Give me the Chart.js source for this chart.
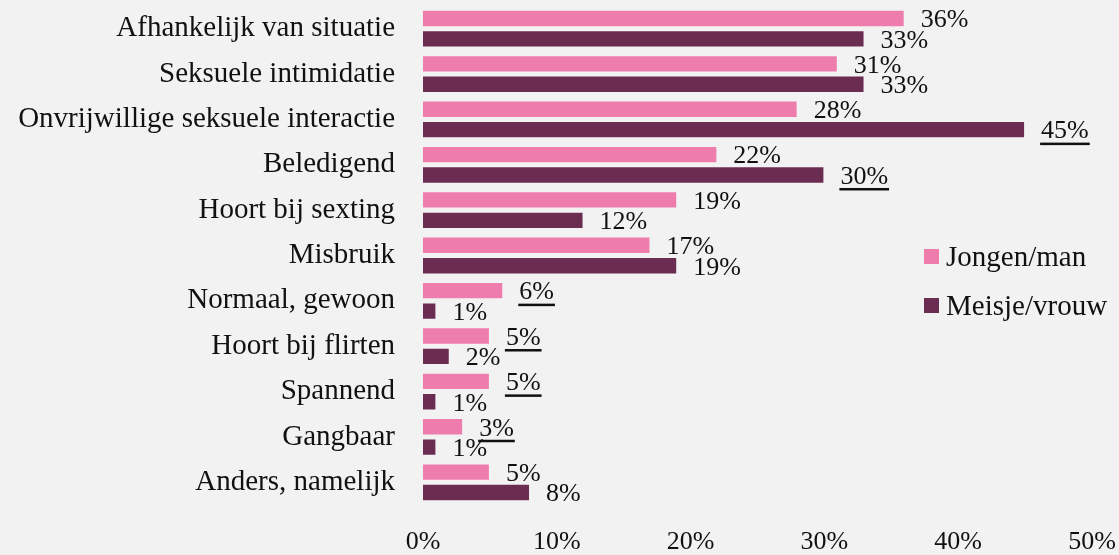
<!DOCTYPE html>
<html>
<head>
<meta charset="utf-8">
<script src="https://cdn.jsdelivr.net/npm/chart.js@4"></script>
<style>
  html, body { margin: 0; padding: 0; background: #f2f2f2; }
  #wrap { width: 1119px; height: 555px; }
</style>
</head>
<body>
<div id="wrap"><canvas id="myChart" width="1119" height="555"></canvas></div>
<script>
const categorieen = ['Afhankelijk van situatie', 'Seksuele intimidatie', 'Onvrijwillige seksuele interactie',
  'Beledigend', 'Hoort bij sexting', 'Misbruik', 'Normaal, gewoon', 'Hoort bij flirten',
  'Spannend', 'Gangbaar', 'Anders, namelijk'];
const jongen = [36, 31, 28, 22, 19, 17, 6, 5, 5, 3, 5];
const meisje = [33, 33, 45, 30, 12, 19, 1, 2, 1, 1, 8];
// welke labels onderstreept zijn (significant verschil)
const jongenOnderstreept = [0, 0, 0, 0, 0, 0, 1, 1, 1, 1, 0];
const meisjeOnderstreept = [0, 0, 1, 1, 0, 0, 0, 0, 0, 0, 0];
const xTicks = [0, 10, 20, 30, 40, 50];

const FONT = "'Liberation Serif', serif";

const labelPlugin = {
  id: 'waardeLabels',
  afterDatasetsDraw(chart) {
    const ctx = chart.ctx;
    const lijnen = [jongenOnderstreept, meisjeOnderstreept];
    ctx.save();
    ctx.font = '26px ' + FONT;
    ctx.fillStyle = '#111';
    ctx.textAlign = 'left';
    ctx.textBaseline = 'middle';
    chart.data.datasets.forEach((ds, i) => {
      const meta = chart.getDatasetMeta(i);
      meta.data.forEach((bar, j) => {
        const txt = ds.data[j] + '%';
        const x = bar.x + 16;
        const y = bar.y + 2;
        ctx.fillText(txt, x, y);
        if (lijnen[i][j]) {
          const w = ctx.measureText(txt).width;
          ctx.fillRect(x - 1, y + 11, w + 2, 2.5);
        }
      });
    });
    ctx.restore();
  }
};

const legendPlugin = {
  id: 'eigenLegenda',
  afterDraw(chart) {
    const ctx = chart.ctx;
    const items = [
      { text: 'Jongen/man', color: '#ee7cad', y: 256 },
      { text: 'Meisje/vrouw', color: '#6a2d51', y: 305 }
    ];
    ctx.save();
    ctx.font = '29px ' + FONT;
    ctx.textBaseline = 'middle';
    ctx.textAlign = 'left';
    items.forEach(it => {
      ctx.fillStyle = it.color;
      ctx.fillRect(924, it.y - 7, 15, 15);
      ctx.fillStyle = '#111';
      ctx.fillText(it.text, 946, it.y + 2);
    });
    ctx.restore();
  }
};

const bgPlugin = {
  id: 'achtergrond',
  beforeDraw(chart) {
    const ctx = chart.ctx;
    ctx.save();
    ctx.fillStyle = '#f2f2f2';
    ctx.fillRect(0, 0, chart.width, chart.height);
    ctx.restore();
  }
};

function geenPadding(scale) {
  scale.paddingTop = 0;
  scale.paddingBottom = 0;
  scale.paddingLeft = 0;
  scale.paddingRight = 0;
}

new Chart(document.getElementById('myChart'), {
  type: 'bar',
  data: {
    labels: categorieen,
    datasets: [{
      label: 'Jongen/man',
      data: jongen,
      backgroundColor: '#ee7cad',
      borderColor: 'rgba(255,255,255,0.2)',
      borderWidth: 1
    }, {
      label: 'Meisje/vrouw',
      data: meisje,
      backgroundColor: '#6a2d51',
      borderColor: 'rgba(255,255,255,0.2)',
      borderWidth: 1
    }]
  },
  options: {
    indexAxis: 'y',
    responsive: false,
    animation: false,
    datasets: { bar: { categoryPercentage: 0.9, barPercentage: 0.85 } },
    layout: { padding: { top: 6, right: 27, left: 0, bottom: 0 } },
    plugins: {
      legend: { display: false },
      tooltip: { enabled: false }
    },
    scales: {
      x: {
        min: 0,
        max: 50,
        grid: { display: false, drawTicks: false },
        border: { display: false },
        afterBuildTicks(scale) { scale.ticks = xTicks.map(v => ({ value: v })); },
        afterFit(scale) { scale.height = 50; geenPadding(scale); },
        ticks: {
          padding: 22,
          maxRotation: 0,
          color: '#111',
          font: { family: FONT, size: 26 },
          callback: v => v + '%'
        }
      },
      y: {
        grid: { display: false, drawTicks: false },
        border: { display: false },
        afterFit(scale) { scale.width = 423; geenPadding(scale); },
        ticks: {
          padding: 28,
          color: '#111',
          font: { family: FONT, size: 29 }
        }
      }
    }
  },
  plugins: [bgPlugin, labelPlugin, legendPlugin]
});
</script>
</body>
</html>
